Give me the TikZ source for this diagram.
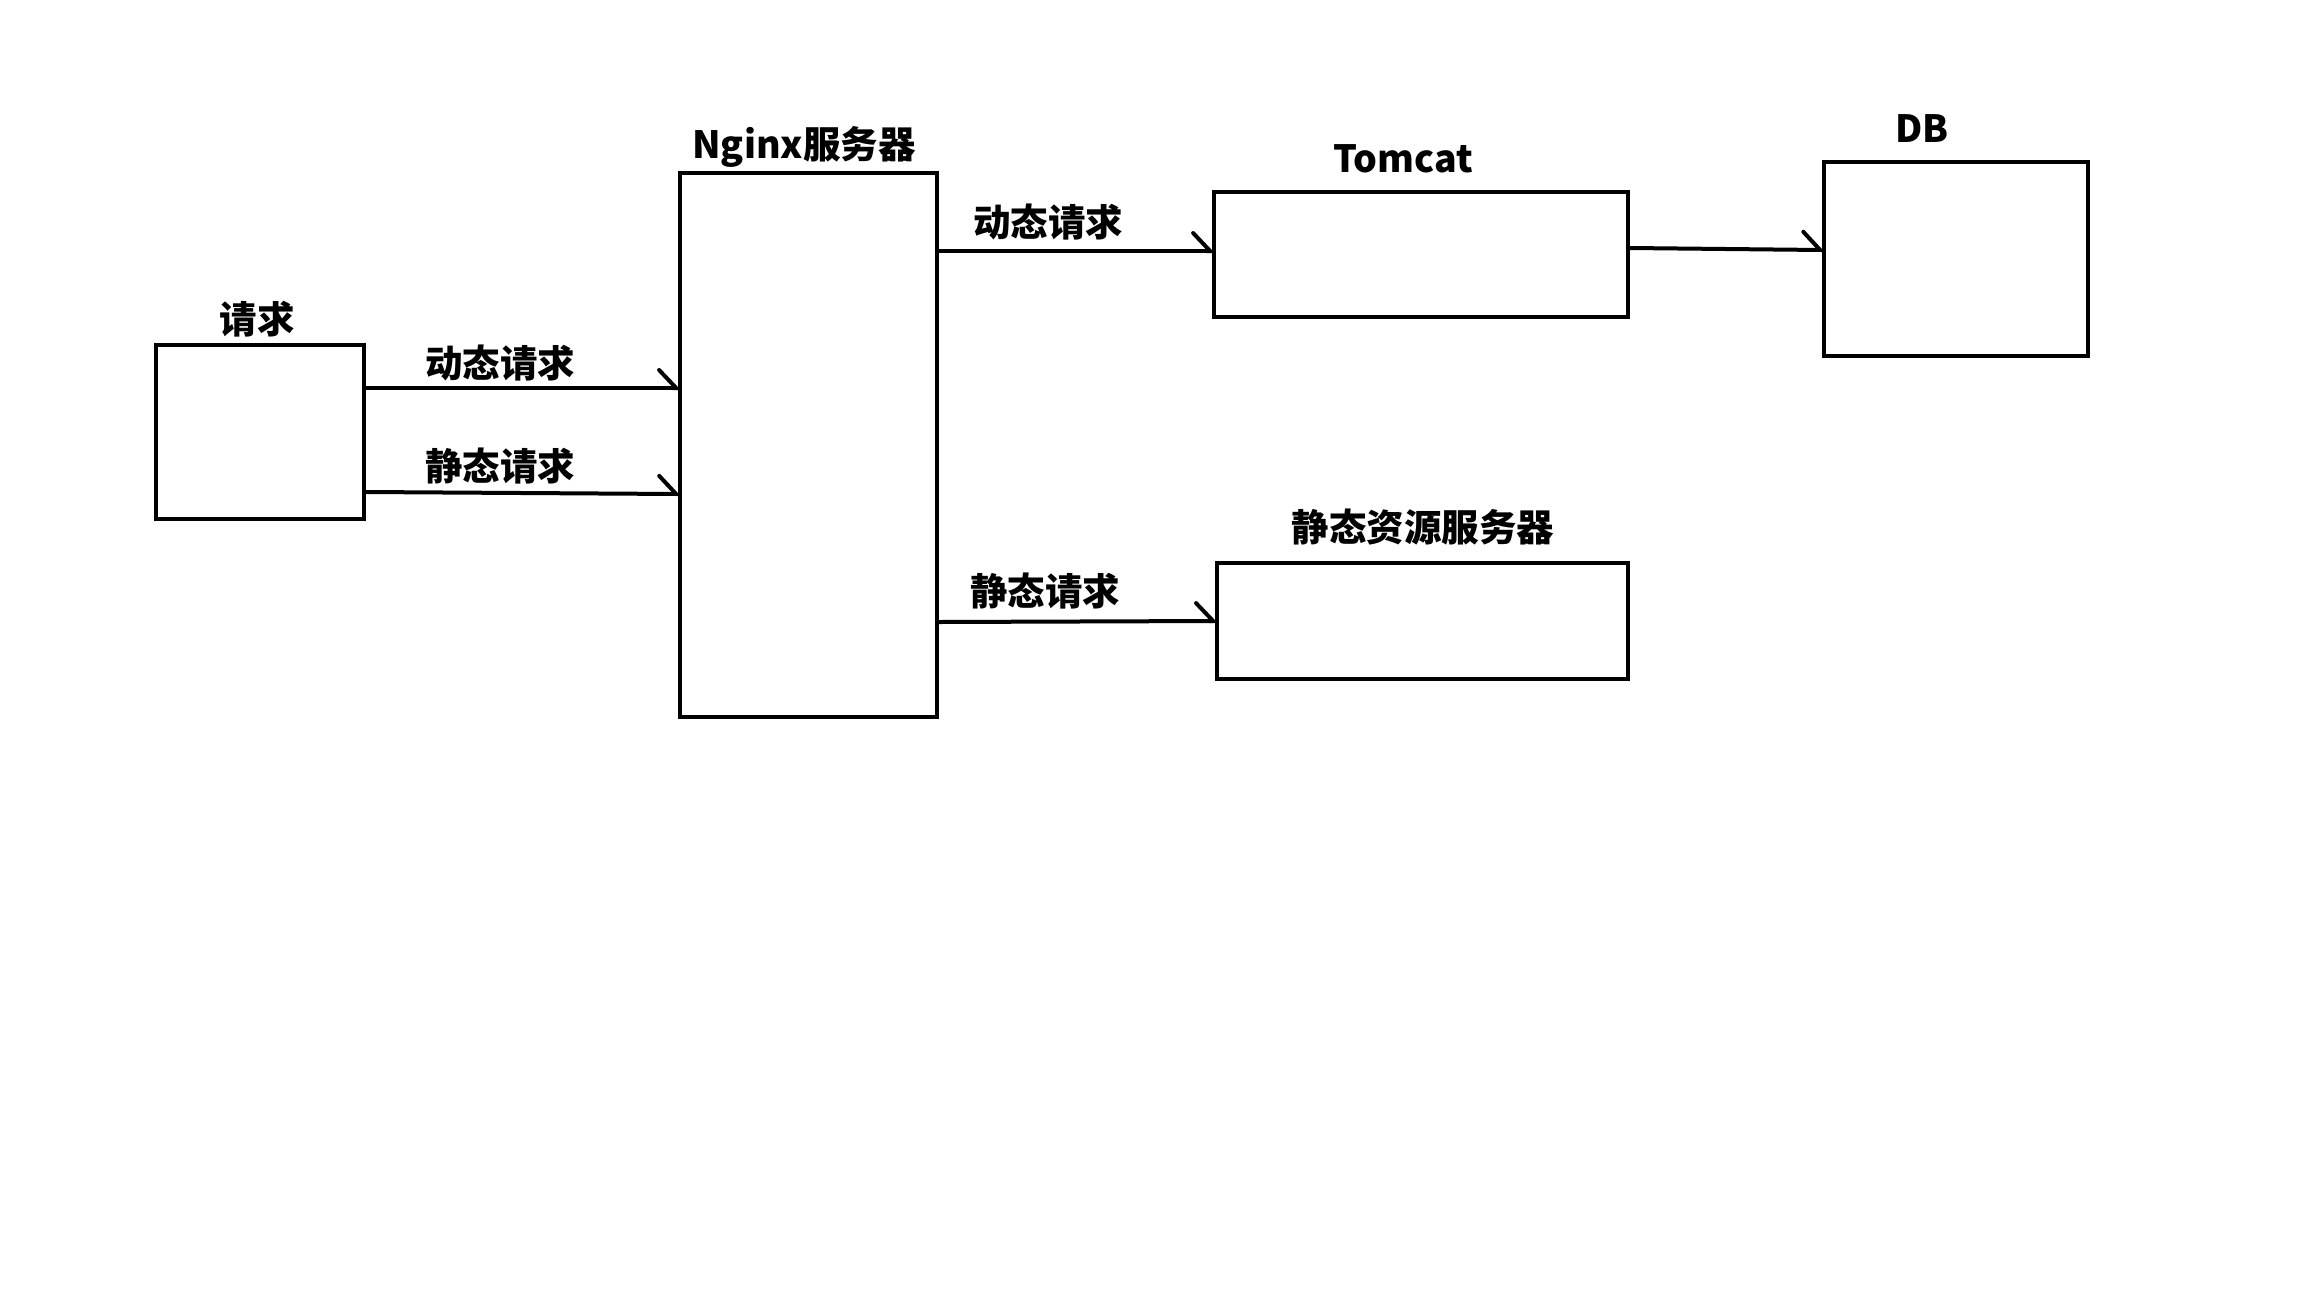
\documentclass[tikz,border=0pt]{standalone}
\usepackage{fontspec}
\setmainfont{Noto Sans CJK SC}
\usetikzlibrary{arrows.meta}
\tikzset{
  box/.style={draw, line width=4.5pt, inner sep=0pt, rectangle},
  lbl/.style={font=\fontsize{37.5}{44}\selectfont\bfseries, inner sep=0pt},
  conn/.style={line width=4pt, line cap=round, shorten >=-3pt,
    -{Straight Barb[harpoon, length=17pt, width=36pt, line cap=round]}}
}
\begin{document}
\begin{tikzpicture}[x=1pt,y=-1pt]
\useasboundingbox[fill=white] (0,0) rectangle (2304,1296);
% boxes
\node[box, minimum width=208pt, minimum height=174pt] (req) at (260,432) {};
\node[box, minimum width=257pt, minimum height=544pt] (ng) at (808.5,445) {};
\node[box, minimum width=414pt, minimum height=125pt] (tc) at (1421,254.5) {};
\node[box, minimum width=264pt, minimum height=194pt] (db) at (1956,259) {};
\node[box, minimum width=411pt, minimum height=116pt] (st) at (1422.5,621) {};
% titles
\node[lbl] (treq) at (257,319) {请求};
\node[lbl] (tng) at (804,147) {Nginx服务器};
\node[lbl] (ttc) at (1403,159) {Tomcat};
\node[lbl] (tdb) at (1922,129) {DB};
\node[lbl] (tst) at (1423,527) {静态资源服务器};
% connector labels
\node[lbl] (l1) at (500,363) {动态请求};
\node[lbl] (l2) at (500,466) {静态请求};
\node[lbl] (l3) at (1048,222) {动态请求};
\node[lbl] (l4) at (1045,591) {静态请求};
% connectors
\draw[conn] (req.east |- 0,388) -- (ng.west |- 0,388);
\draw[conn] (req.east |- 0,492) -- (ng.west |- 0,494);
\draw[conn] (ng.east |- 0,251) -- (tc.west |- 0,251);
\draw[conn] (tc.east |- 0,248) -- (db.west |- 0,250);
\draw[conn] (ng.east |- 0,622) -- (st.west |- 0,621);
\end{tikzpicture}
\end{document}
